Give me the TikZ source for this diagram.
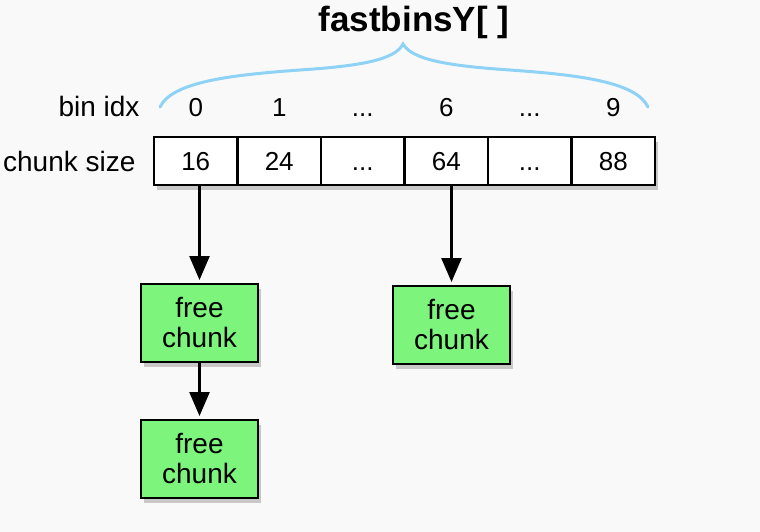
\documentclass[tikz,border=0pt]{standalone}
\usepackage{fontspec}
\setmainfont{Liberation Sans}
\usetikzlibrary{arrows.meta,shadows}

\definecolor{bgcol}{RGB}{249,249,249}
\definecolor{bracecol}{RGB}{142,210,245}
\definecolor{freecol}{RGB}{125,245,125}

\tikzset{
	boxshadow/.style={drop shadow={opacity=0.4, shadow xshift=3pt, shadow yshift=-5pt}},
	cellbox/.style={draw, line width=2.5pt, fill=white, minimum width=83.5pt, minimum height=48pt, inner sep=0pt, text height=18pt, text depth=0pt, font=\fontsize{26}{30}\selectfont, boxshadow},
	idxlabel/.style={anchor=base, font=\fontsize{26}{30}\selectfont},
	rowlabel/.style={anchor=base east, font=\fontsize{28}{32}\selectfont},
	freebox/.style={draw, line width=2pt, fill=freecol, minimum width=117pt, minimum height=78pt, inner sep=0pt, align=center, font=\fontsize{28}{30}\selectfont, boxshadow},
	link/.style={line width=2.5pt, shorten >=3pt, -{Triangle[length=24pt,width=20pt]}}
}
\def\ellip{...}

\begin{document}
\begin{tikzpicture}[x=1pt,y=-1pt]
	%background
		\fill[bgcol] (0,0) rectangle (760,532);
		\useasboundingbox (0,0) rectangle (760,532);
	%title + brace
		\node[font=\bfseries\fontsize{35}{40}\selectfont] (title) at (414,22) {fastbinsY[ ]};
		\draw[bracecol, line width=3pt, line cap=round] (160,107) .. controls (172,82) and (230,75) .. (300,70) .. controls (360,66) and (395,60) .. (403,44) .. controls (412,60) and (450,66) .. (510,70) .. controls (580,75) and (636,82) .. (648,107);
	%row labels
		\node[rowlabel] (binidx) at (143,117) {bin idx};
		\node[rowlabel] (chunksize) at (139,171) {chunk size};
	%array cells + indices
		\foreach \i/\sz/\idx in {0/16/0, 1/24/1, 2/\ellip/\ellip, 3/64/6, 4/\ellip/\ellip, 5/88/9} {
			\node[cellbox] (c\i) at (195.75+83.5*\i,161) {\sz};
			\node[idxlabel] (i\i) at (195.75+83.5*\i,117) {\idx};
		}
	%free chunks
		\node[freebox] (f1) at (199.5,323) {free\\chunk};
		\node[freebox] (f2) at (199.5,459) {free\\chunk};
		\node[freebox] (f3) at (451.5,325) {free\\chunk};
	%links
		\draw[link] (f1 |- c0.south) -- (f1.north);
		\draw[link] (f1.south) -- (f2.north);
		\draw[link] (f3 |- c3.south) -- (f3.north);
\end{tikzpicture}
\end{document}
